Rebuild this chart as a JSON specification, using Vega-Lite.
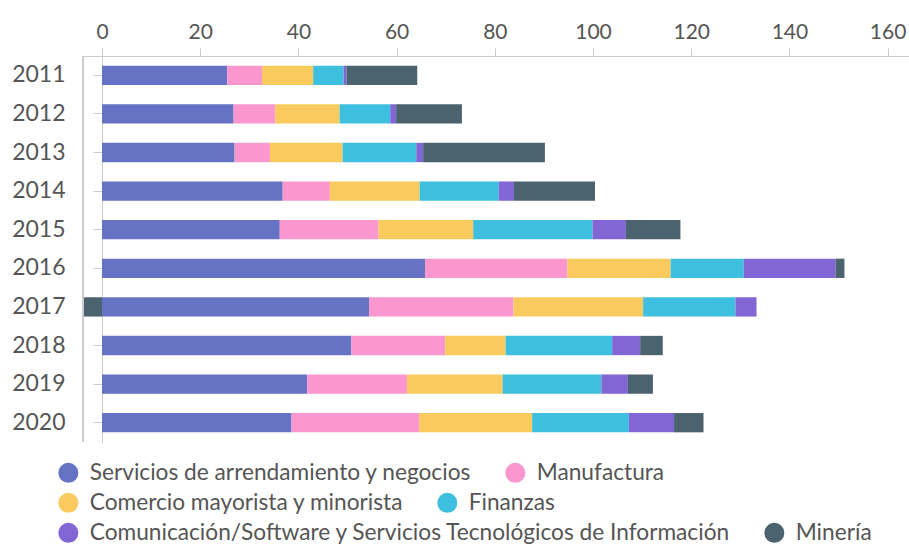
{
  "$schema": "https://vega.github.io/schema/vega-lite/v6.json",
  "autosize": {"type": "none"},
  "width": 826,
  "height": 386,
  "padding": {"left": 83, "top": 56, "right": 0, "bottom": 102},
  "background": "white",
  "config": {
    "font": "Lato",
    "view": {"stroke": null},
    "legend": {
      "title": null, "orient": "none", "direction": "horizontal",
      "symbolType": "circle", "symbolSize": 400, "symbolStrokeWidth": 0, "symbolOpacity": 1,
      "labelFontSize": 22.7, "labelColor": "#555555", "labelLimit": 1000,
      "columnPadding": 32, "labelOffset": 10, "padding": 0
    }
  },
  "data": {
    "values": [
      {"year": "2011", "Servicios de arrendamiento y negocios": 25.5, "Manufactura": 7.1, "Comercio mayorista y minorista": 10.4, "Finanzas": 6.2, "Comunicación/Software y Servicios Tecnológicos de Información": 0.6, "Minería": 14.4},
      {"year": "2012", "Servicios de arrendamiento y negocios": 26.8, "Manufactura": 8.5, "Comercio mayorista y minorista": 13.1, "Finanzas": 10.3, "Comunicación/Software y Servicios Tecnológicos de Información": 1.2, "Minería": 13.4},
      {"year": "2013", "Servicios de arrendamiento y negocios": 27.0, "Manufactura": 7.2, "Comercio mayorista y minorista": 14.8, "Finanzas": 15.0, "Comunicación/Software y Servicios Tecnológicos de Información": 1.4, "Minería": 24.8},
      {"year": "2014", "Servicios de arrendamiento y negocios": 36.8, "Manufactura": 9.6, "Comercio mayorista y minorista": 18.3, "Finanzas": 16.1, "Comunicación/Software y Servicios Tecnológicos de Información": 3.1, "Minería": 16.5},
      {"year": "2015", "Servicios de arrendamiento y negocios": 36.2, "Manufactura": 20.1, "Comercio mayorista y minorista": 19.3, "Finanzas": 24.3, "Comunicación/Software y Servicios Tecnológicos de Información": 6.8, "Minería": 11.1},
      {"year": "2016", "Servicios de arrendamiento y negocios": 65.8, "Manufactura": 29.0, "Comercio mayorista y minorista": 21.0, "Finanzas": 14.9, "Comunicación/Software y Servicios Tecnológicos de Información": 18.7, "Minería": 1.8},
      {"year": "2017", "Servicios de arrendamiento y negocios": 54.4, "Manufactura": 29.4, "Comercio mayorista y minorista": 26.4, "Finanzas": 18.8, "Comunicación/Software y Servicios Tecnológicos de Información": 4.3, "Minería": -3.7},
      {"year": "2018", "Servicios de arrendamiento y negocios": 50.8, "Manufactura": 19.1, "Comercio mayorista y minorista": 12.3, "Finanzas": 21.7, "Comunicación/Software y Servicios Tecnológicos de Información": 5.7, "Minería": 4.6},
      {"year": "2019", "Servicios de arrendamiento y negocios": 41.8, "Manufactura": 20.3, "Comercio mayorista y minorista": 19.5, "Finanzas": 20.1, "Comunicación/Software y Servicios Tecnológicos de Información": 5.4, "Minería": 5.1},
      {"year": "2020", "Servicios de arrendamiento y negocios": 38.6, "Manufactura": 26.0, "Comercio mayorista y minorista": 23.0, "Finanzas": 19.7, "Comunicación/Software y Servicios Tecnológicos de Información": 9.2, "Minería": 6.0}
    ]
  },
  "transform": [
    {"fold": ["Servicios de arrendamiento y negocios", "Manufactura", "Comercio mayorista y minorista", "Finanzas", "Comunicación/Software y Servicios Tecnológicos de Información", "Minería"], "as": ["sector", "valor"]},
    {"calculate": "indexof(['Servicios de arrendamiento y negocios', 'Manufactura', 'Comercio mayorista y minorista', 'Finanzas', 'Comunicación/Software y Servicios Tecnológicos de Información', 'Minería'], datum.sector)", "as": "orden"}
  ],
  "encoding": {
    "y": {
      "field": "year", "type": "ordinal",
      "scale": {"paddingInner": 0.5, "paddingOuter": 0.25},
      "axis": {
        "title": null, "orient": "left", "offset": -19,
        "domainColor": "#cccccc", "tickColor": "#cccccc", "tickSize": 9,
        "labelPadding": 28, "labelFontSize": 23, "labelColor": "#555555"
      }
    }
  },
  "layer": [
    {
      "mark": {"type": "bar"},
      "encoding": {
        "x": {
          "field": "valor", "type": "quantitative", "stack": "zero",
          "scale": {"domain": [-3.87, 164.35], "nice": false, "zero": false},
          "axis": {
            "title": null, "orient": "top", "values": [0, 20, 40, 60, 80, 100, 120, 140, 160],
            "grid": false, "domainColor": "#cccccc", "tickColor": "#cccccc", "tickSize": 8,
            "labelFontSize": 21, "labelColor": "#555555", "labelPadding": 6, "labelFlush": false
          }
        },
        "order": {"field": "orden", "type": "quantitative"},
        "color": {
          "field": "sector", "type": "nominal",
          "scale": {
            "domain": ["Servicios de arrendamiento y negocios", "Manufactura", "Comercio mayorista y minorista", "Finanzas", "Comunicación/Software y Servicios Tecnológicos de Información", "Minería"],
            "range": ["#6673c4", "#fc96cf", "#f9cb5e", "#3fbfe0", "#8366d6", "#4b626f"]
          },
          "legend": null
        }
      }
    },
    {
      "transform": [{"filter": "datum.orden < 2"}],
      "mark": {"type": "point", "filled": true, "opacity": 0},
      "encoding": {
        "x": {"field": "valor", "type": "quantitative"},
        "color": {
          "field": "sector", "type": "nominal",
          "scale": {
            "domain": ["Servicios de arrendamiento y negocios", "Manufactura"],
            "range": ["#6673c4", "#fc96cf"]
          },
          "legend": {"legendX": -26, "legendY": 405}
        }
      }
    },
    {
      "transform": [{"filter": "datum.orden >= 2 && datum.orden < 4"}],
      "mark": {"type": "point", "filled": true, "opacity": 0},
      "encoding": {
        "x": {"field": "valor", "type": "quantitative"},
        "color": {
          "field": "sector", "type": "nominal",
          "scale": {
            "domain": ["Comercio mayorista y minorista", "Finanzas"],
            "range": ["#f9cb5e", "#3fbfe0"]
          },
          "legend": {"legendX": -26, "legendY": 435}
        }
      }
    },
    {
      "transform": [{"filter": "datum.orden >= 4"}],
      "mark": {"type": "point", "filled": true, "opacity": 0},
      "encoding": {
        "x": {"field": "valor", "type": "quantitative"},
        "color": {
          "field": "sector", "type": "nominal",
          "scale": {
            "domain": ["Comunicación/Software y Servicios Tecnológicos de Información", "Minería"],
            "range": ["#8366d6", "#4b626f"]
          },
          "legend": {"legendX": -26, "legendY": 465}
        }
      }
    },
    {
      "mark": {"type": "rule", "color": "#cccccc", "strokeWidth": 1},
      "encoding": {"x": {"datum": -3.87, "type": "quantitative"}, "y": null}
    }
  ],
  "resolve": {"scale": {"color": "independent"}}
}
